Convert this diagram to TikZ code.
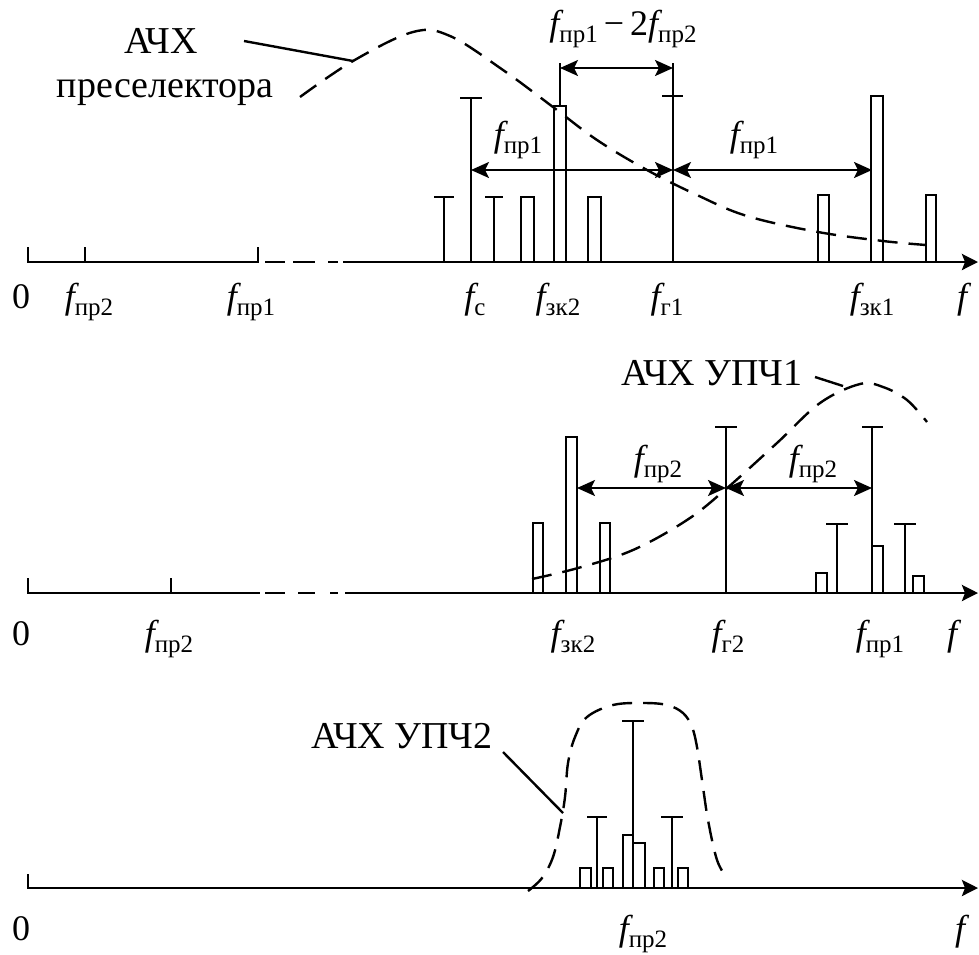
\documentclass[tikz,border=0pt]{standalone}
\usepackage{fontspec}
\setmainfont{Liberation Serif}
\usetikzlibrary{arrows.meta}
\tikzset{
  axisln/.style={line width=1.4pt},
  axarr/.style={axisln, -{Stealth[length=8pt, width=8pt, inset=1.5pt]}},
  spk/.style={line width=1.2pt},
  sbar/.style={line width=1.2pt},
  ach/.style={line width=1.2pt, dash pattern=on 10pt off 5.5pt},
  lead/.style={line width=1.2pt},
  dimarr/.style={line width=1.2pt,
    {Stealth[length=9pt, width=8pt, inset=2pt]}-{Stealth[length=9pt, width=8pt, inset=2pt]}},
  lbl/.style={font=\fontsize{18}{21}\selectfont, inner sep=0pt, anchor=base},
  ann/.style={lbl, font=\fontsize{19}{22}\selectfont},
}
\newcommand\ff{{\fontsize{18}{20}\selectfont\itshape f}}
\newcommand\fsub[1]{\ff\raisebox{-3.5pt}{\fontsize{12.5}{12.5}\selectfont #1}}

\begin{document}
\begin{tikzpicture}[x=0.5pt, y=-0.5pt]
  \useasboundingbox (0,0) rectangle (979,954);

  % --- spectrum at the preselector
  \draw[axisln] (28,247) -- (28,262) -- (258,262) -- (258,247);
  \draw[axisln] (85,262) -- (85,247);
  \draw[axisln] (265,262) -- (285,262) (293,262) -- (315,262) (328,262) -- (338,262);
  \draw[axarr] (343,262) -- (978,262);
  \draw[spk] (444,262) -- (444,197) (434,197) -- (454,197);
  \draw[spk] (471,262) -- (471,98) (460,98) -- (482,98);
  \draw[spk] (494,262) -- (494,197) (485,197) -- (503,197);
  \draw[sbar] (521,262) rectangle (534,197);
  \draw[sbar] (554,262) rectangle (566,106);
  \draw[spk] (560,106) -- (560,63);
  \draw[sbar] (588,262) rectangle (601,197);
  \draw[spk] (673,262) -- (673,63) (662,96) -- (683,96);
  \draw[sbar] (818,262) rectangle (829,195);
  \draw[sbar] (871,262) rectangle (883,96);
  \draw[sbar] (926,262) rectangle (936,195);
  \draw[ach] plot[smooth, tension=0.6] coordinates {(300,97) (353,61) (413,32) (450,36)
    (503,70) (553,107) (597,140) (647,170) (697,195) (747,216) (818,232) (883,241) (926,245)};

  \coordinate (zkTop) at (560,68);
  \coordinate (gTop) at (673,68);
  \coordinate (cMid) at (471,170);
  \coordinate (gMid) at (673,170);
  \coordinate (zkMid) at (872,170);
  \draw[dimarr] (zkTop) -- (gTop);
  \draw[dimarr] (cMid) -- (gMid);
  \draw[dimarr] (gMid) -- (zkMid);

  \node[lbl] (difLbl) at (623,35) {\fsub{пр1}\,−\,2\fsub{пр2}};
  \node[lbl] (prA) at (518,146) {\fsub{пр1}};
  \node[lbl] (prB) at (754,146) {\fsub{пр1}};
  \node[ann] (achA) at (161,53) {АЧХ};
  \node[ann] (presA) at (165,97) {преселектора};
  \coordinate (leadA) at (244,41);
  \coordinate (curveA) at (353,61);
  \draw[lead] (leadA) -- (curveA);

  \node[lbl] (zeroA) at (21,308) {0};
  \node[lbl] (fpr2A) at (89,308) {\fsub{пр2}};
  \node[lbl] (fpr1A) at (251,308) {\fsub{пр1}};
  \node[lbl] (fcA) at (475,308) {\fsub{с}};
  \node[lbl] (fzk2A) at (558,308) {\fsub{зк2}};
  \node[lbl] (fg1A) at (667,308) {\fsub{г1}};
  \node[lbl] (fzk1A) at (872,308) {\fsub{зк1}};
  \node[lbl] (fA) at (962,308) {\ff};

  % --- spectrum at the first IF amplifier
  \draw[axisln] (28,578) -- (28,593) -- (260,593);
  \draw[axisln] (171,593) -- (171,578);
  \draw[axisln] (265,593) -- (285,593) (298,593) -- (315,593) (330,593) -- (338,593);
  \draw[axarr] (345,593) -- (978,593);
  \draw[sbar] (533,593) rectangle (543,523);
  \draw[sbar] (566,593) rectangle (577,437);
  \draw[sbar] (600,593) rectangle (610,523);
  \draw[spk] (726,593) -- (726,427) (715,427) -- (737,427);
  \draw[sbar] (816,593) rectangle (827,573);
  \draw[spk] (837,593) -- (837,524) (826,524) -- (848,524);
  \draw[spk] (872,593) -- (872,427) (862,427) -- (883,427);
  \draw[sbar] (872,593) rectangle (883,546);
  \draw[spk] (905,593) -- (905,524) (894,524) -- (916,524);
  \draw[sbar] (913,593) rectangle (924,576);
  \draw[ach] plot[smooth, tension=0.6] coordinates {(532,579) (578,568) (633,550) (687,520)
    (726,489) (777,443) (820,403) (860,384) (883,387) (907,400) (927,422)};

  \coordinate (zkB) at (577,488);
  \coordinate (gB) at (726,488);
  \coordinate (prB1) at (872,488);
  \draw[dimarr] (zkB) -- (gB);
  \draw[dimarr] (gB) -- (prB1);

  \node[lbl] (prC) at (658,470) {\fsub{пр2}};
  \node[lbl] (prD) at (813,470) {\fsub{пр2}};
  \node[ann] (achB) at (712,385) {АЧХ УПЧ1};
  \coordinate (leadB) at (815,377);
  \coordinate (curveB) at (843,386);
  \draw[lead] (leadB) -- (curveB);

  \node[lbl] (zeroB) at (21,645) {0};
  \node[lbl] (fpr2B) at (169,645) {\fsub{пр2}};
  \node[lbl] (fzk2B) at (573,645) {\fsub{зк2}};
  \node[lbl] (fg2B) at (728,645) {\fsub{г2}};
  \node[lbl] (fpr1B) at (880,645) {\fsub{пр1}};
  \node[lbl] (fB) at (952,645) {\ff};

  % --- spectrum at the second IF amplifier
  \draw[axarr] (28,874) -- (28,888) -- (978,888);
  \draw[sbar] (580,888) rectangle (591,868);
  \draw[spk] (597,888) -- (597,817) (587,817) -- (607,817);
  \draw[sbar] (603,888) rectangle (613,868);
  \draw[sbar] (623,888) rectangle (633,835);
  \draw[spk] (633,888) -- (633,721) (622,721) -- (644,721);
  \draw[sbar] (633,888) rectangle (645,843);
  \draw[sbar] (654,888) rectangle (664,868);
  \draw[spk] (672,888) -- (672,817) (661,817) -- (683,817);
  \draw[sbar] (678,888) rectangle (688,868);
  \draw[ach] plot[smooth, tension=0.6] coordinates {(528,891) (542,878) (553,857) (560,827)
    (565,797) (568,763) (575,737) (587,717) (613,705) (643,703) (667,705) (683,713)
    (692,727) (697,747) (702,780) (708,820) (717,860) (727,878)};

  \node[ann] (achC) at (402,748) {АЧХ УПЧ2};
  \coordinate (leadC) at (503,752);
  \coordinate (curveC) at (563,813);
  \draw[lead] (leadC) -- (curveC);

  \node[lbl] (zeroC) at (21,940) {0};
  \node[lbl] (fpr2C) at (643,940) {\fsub{пр2}};
  \node[lbl] (fC) at (960,940) {\ff};
\end{tikzpicture}
\end{document}
